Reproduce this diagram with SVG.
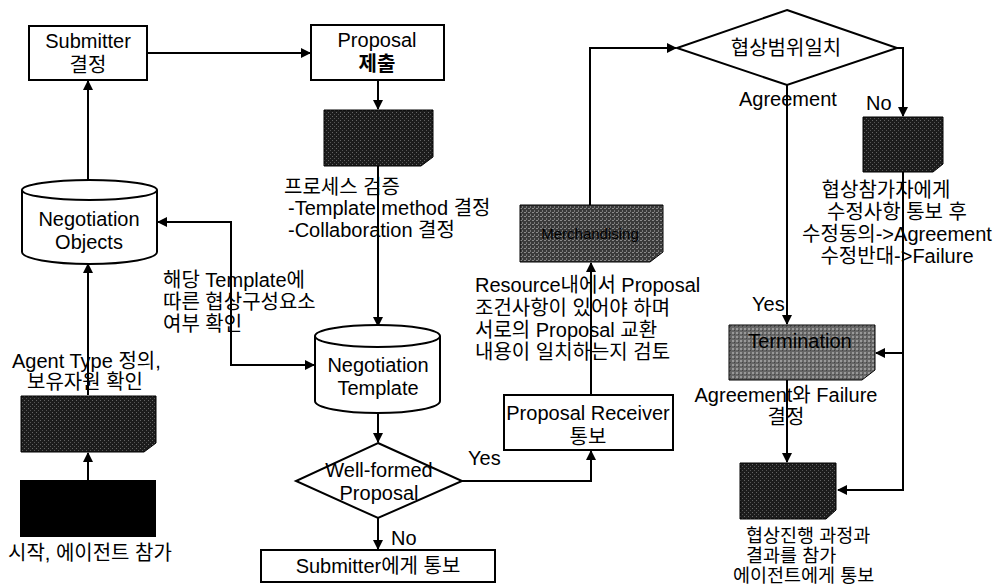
<svg xmlns="http://www.w3.org/2000/svg" width="1002" height="585" viewBox="0 0 1002 585">
<style>
text{font-family:"Liberation Sans","Noto Sans CJK KR",sans-serif;font-size:20px;fill:#000}
.box{fill:#fff;stroke:#000;stroke-width:2}
.cyl{fill:#fff;stroke:#000;stroke-width:2}
.dim{font-size:15px}
.sm{font-size:18.5px}
.con{fill:none;stroke:#000;stroke-width:2}
.m{text-anchor:middle}
</style>
<defs>
<marker id="ah" viewBox="0 0 10 10" refX="9" refY="5" markerWidth="5" markerHeight="5" orient="auto-start-reverse">
<path d="M0,0 L10,5 L0,10 Z" fill="#000"/>
</marker>
<pattern id="tex" width="4" height="4" patternUnits="userSpaceOnUse">
<rect width="4" height="4" fill="#1c1c1c"/>
<rect x="0" y="0" width="1" height="1" fill="#666"/>
<rect x="2" y="2" width="1" height="1" fill="#555"/>
</pattern>
<pattern id="tex2" width="4" height="4" patternUnits="userSpaceOnUse">
<rect width="4" height="4" fill="#3a3a3a"/>
<rect x="0" y="0" width="2" height="1" fill="#8a8a8a"/>
<rect x="2" y="2" width="1" height="2" fill="#777"/>
</pattern>
<pattern id="tex3" width="4" height="4" patternUnits="userSpaceOnUse">
<rect width="4" height="4" fill="#666"/>
<rect x="0" y="0" width="2" height="2" fill="#999"/>
<rect x="2" y="2" width="1" height="1" fill="#444"/>
</pattern>
</defs>

<g id="connectors">
<path class="con" d="M147,53 H310" marker-end="url(#ah)"/>
<path class="con" d="M378,80 V109" marker-end="url(#ah)"/>
<path class="con" d="M378,166 V326" marker-end="url(#ah)"/>
<path class="con" d="M158,222 H231 V365 H314" marker-start="url(#ah)" marker-end="url(#ah)"/>
<path class="con" d="M378,414 V442" marker-end="url(#ah)"/>
<path class="con" d="M378,518 V549" marker-end="url(#ah)"/>
<path class="con" d="M462,481 H591 V451" marker-end="url(#ah)"/>
<path class="con" d="M591,395 V263" marker-end="url(#ah)"/>
<path class="con" d="M590,205 V48 H676" marker-end="url(#ah)"/>
<path class="con" d="M897,48 H903 V116" marker-end="url(#ah)"/>
<path class="con" d="M787,85 V324" marker-end="url(#ah)"/>
<path class="con" d="M903,172 V490 H838" marker-end="url(#ah)"/>
<path class="con" d="M903,353 H876" marker-end="url(#ah)"/>
<path class="con" d="M787,380 V462" marker-end="url(#ah)"/>
<path class="con" d="M88,480 V453" marker-end="url(#ah)"/>
<path class="con" d="M88,395 V264" marker-end="url(#ah)"/>
<path class="con" d="M88,180 V81" marker-end="url(#ah)"/>
</g>

<g id="submitter">
<rect class="box" x="29" y="26" width="118" height="54"/>
<text class="m" x="88" y="48">Submitter</text>
<text class="m" x="88" y="72">결정</text>
</g>

<g id="proposal">
<rect class="box" x="311" y="25" width="133" height="55"/>
<text class="m" x="377" y="47">Proposal</text>
<text class="m" x="377" y="71" font-weight="bold">제출</text>
</g>

<g id="validate">
<path d="M324,110 H433 V157 L421,166 H324 Z" fill="url(#tex)" stroke="#000" stroke-width="1"/>
<text x="284" y="194">프로세스 검증</text>
<text x="288" y="215">-Template method 결정</text>
<text x="288" y="237">-Collaboration 결정</text>
</g>

<g id="neg-objects">
<path class="cyl" d="M22,190 V252 A67.5,12 0 0 0 157,252 V190"/>
<ellipse class="cyl" cx="89.5" cy="190" rx="67.5" ry="10"/>
<text class="m" x="89" y="226">Negotiation</text>
<text class="m" x="89" y="249">Objects</text>
</g>

<g id="template-note">
<text x="163" y="287">해당 Template에</text>
<text x="163" y="309">따른 협상구성요소</text>
<text x="163" y="331">여부 확인</text>
</g>

<g id="neg-template">
<path class="cyl" d="M315,336 V401 A62.5,12 0 0 0 440,401 V336"/>
<ellipse class="cyl" cx="377.5" cy="336" rx="62.5" ry="11"/>
<text class="m" x="378" y="372">Negotiation</text>
<text class="m" x="378" y="395">Template</text>
</g>

<g id="wellformed">
<path class="box" d="M378,443 L462,481 L378,518 L296,481 Z"/>
<text class="m" x="379" y="477">Well-formed</text>
<text class="m" x="379" y="500">Proposal</text>
<text x="468" y="465">Yes</text>
<text x="391" y="545">No</text>
</g>

<g id="notify-submitter">
<rect class="box" x="261" y="550" width="234" height="32"/>
<text class="m" x="378" y="573">Submitter에게 통보</text>
</g>

<g id="receiver">
<rect class="box" x="504" y="395" width="169" height="55"/>
<text class="m" x="588" y="420">Proposal Receiver</text>
<text class="m" x="588" y="444">통보</text>
</g>

<g id="merchandising">
<path d="M520,205 H663 V252 L650,262 H520 Z" fill="url(#tex2)" stroke="#000" stroke-width="1"/>
<text class="m dim" x="590" y="239" fill="#1a1a1a">Merchandising</text>
<text x="475" y="292">Resource내에서 Proposal</text>
<text x="475" y="315">조건사항이 있어야 하며</text>
<text x="475" y="337">서로의 Proposal 교환</text>
<text x="475" y="359">내용이 일치하는지 검토</text>
</g>

<g id="range-check">
<path class="box" d="M787,10 L897,48 L787,85 L677,48 Z"/>
<text class="m" x="786" y="55">협상범위일치</text>
<text x="739" y="106">Agreement</text>
<text x="866" y="110">No</text>
<text x="752" y="311">Yes</text>
</g>

<g id="modify">
<path d="M863,117 H943 V164 L933,172 H863 Z" fill="url(#tex)" stroke="#000" stroke-width="1"/>
<text class="m" x="886" y="197">협상참가자에게</text>
<text class="m" x="897" y="219">수정사항 통보 후</text>
<text class="m" x="897" y="241">수정동의-&gt;Agreement</text>
<text class="m" x="897" y="263">수정반대-&gt;Failure</text>
</g>

<g id="termination">
<path d="M729,325 H875 V370 L862,380 H729 Z" fill="url(#tex3)" stroke="#000" stroke-width="1"/>
<text class="m" x="800" y="348" fill="#222" font-size="16">Termination</text>
<text class="m" x="786" y="402">Agreement와 Failure</text>
<text class="m" x="786" y="424">결정</text>
</g>

<g id="report">
<path d="M740,463 H836 V510 L826,519 H740 Z" fill="url(#tex)" stroke="#000" stroke-width="1"/>
<text class="sm" x="746" y="542">협상진행 과정과</text>
<text class="sm" x="746" y="562">결과를 참가</text>
<text class="sm" x="733" y="582">에이전트에게 통보</text>
</g>

<g id="agent-type">
<path d="M21,396 H156 V443 L144,452 H21 Z" fill="url(#tex)" stroke="#000" stroke-width="1"/>
<text x="12" y="368">Agent Type 정의,</text>
<text x="27" y="389">보유자원 확인</text>
</g>

<g id="start">
<rect x="20" y="480" width="136" height="57" fill="#000"/>
<text x="8" y="560">시작, 에이전트 참가</text>
</g>
</svg>
